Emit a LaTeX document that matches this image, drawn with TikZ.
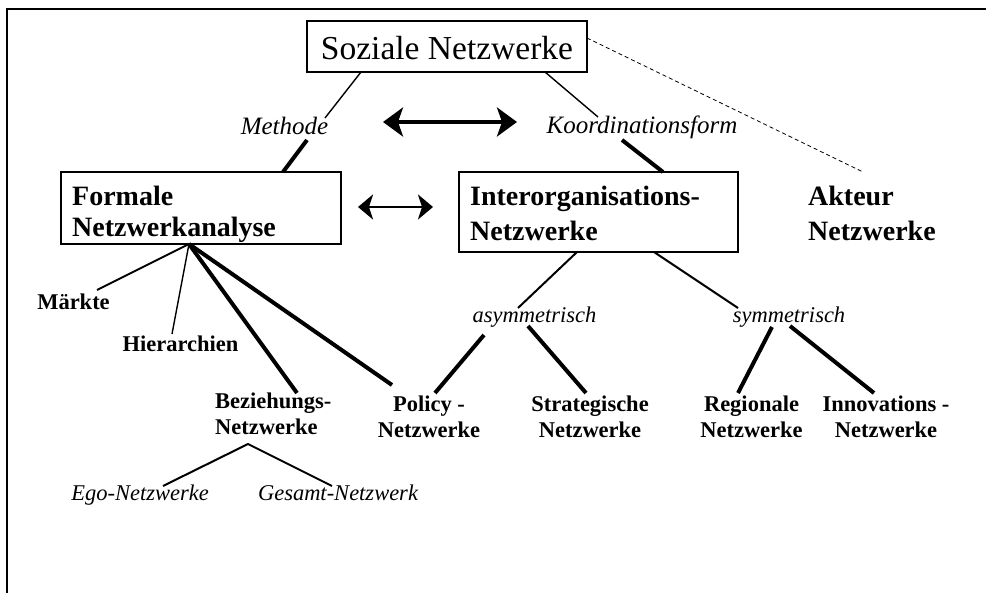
\documentclass[tikz,border=0pt]{standalone}
\usepackage{fontspec}
\setmainfont{Liberation Serif}
\usetikzlibrary{arrows.meta}
\begin{document}
\begin{tikzpicture}[x=1pt,y=-1pt,
  box/.style={draw, line width=1.2pt, inner sep=0pt},
  bigbold/.style={font=\fontsize{28}{31}\selectfont\bfseries, inner sep=0pt},
  widebold/.style={font=\fontsize{28}{35}\selectfont\bfseries, inner sep=0pt},
  smallbold/.style={font=\fontsize{22.5}{26.5}\selectfont\bfseries, inner sep=0pt, align=center},
  topital/.style={font=\fontsize{25}{30}\selectfont\itshape, inner sep=0pt},
  lowital/.style={font=\fontsize{22.5}{27}\selectfont\itshape, inner sep=0pt},
  thinline/.style={line width=1.4pt},
  midline/.style={line width=2pt},
  thickline/.style={line width=4pt},
  bigtip/.style={line width=4pt, {Stealth[length=20pt,width=29pt,inset=5pt]}-{Stealth[length=20pt,width=29pt,inset=5pt]}},
  smalltip/.style={line width=2.5pt, {Stealth[length=15pt,width=25pt,inset=4pt]}-{Stealth[length=15pt,width=25pt,inset=4pt]}},
]
\useasboundingbox (0,0) rectangle (986,593);
% frame (top and left edges)
\draw[line width=1.5pt] (986,9) -- (7,9) -- (7,593);

% top node
\node[box, minimum width=280pt, text height=39pt, text depth=12pt,
      font=\fontsize{33.5}{40}\selectfont] (soz) at (447,46.5) {Soziale Netzwerke};

% second level (base anchor sits on the last line)
\node[box, minimum width=280pt, minimum height=72pt] (formale) at (201,208) {};
\node[bigbold, align=left, anchor=base west] (formaleTxt) at (72,236.5) {Formale\\Netzwerkanalyse};
\node[box, minimum width=279pt, minimum height=80pt] (inter) at (598.5,212) {};
\node[widebold, align=left, anchor=base west] (interTxt) at (470,240.5) {Interorganisations-\\Netzwerke};
\node[widebold, align=left, anchor=base west] (akteur) at (808,240.5) {Akteur\\Netzwerke};

% edge labels
\node[topital, anchor=base] (methode) at (284.5,135) {Methode};
\node[topital, anchor=base] (koord) at (642,134) {Koordinationsform};
\node[lowital, anchor=base] (asym) at (534.5,323) {asymmetrisch};
\node[lowital, anchor=base] (sym) at (789,323) {symmetrisch};

% leaves
\node[smallbold, anchor=base] (maerkte) at (73.5,310) {Märkte};
\node[smallbold, anchor=base] (hier) at (180.5,352) {Hierarchien};
\node[smallbold, align=left, anchor=base west] (bez) at (215,435) {Beziehungs-\\Netzwerke};
\node[smallbold, anchor=base] (policy) at (429,438) {Policy -\\Netzwerke};
\node[smallbold, anchor=base] (strat) at (590,438) {Strategische\\Netzwerke};
\node[smallbold, anchor=base] (reg) at (751.5,438) {Regionale\\Netzwerke};
\node[smallbold, anchor=base] (innov) at (886,438) {Innovations -\\Netzwerke};
\node[lowital, anchor=base] (ego) at (140,501) {Ego-Netzwerke};
\node[lowital, anchor=base] (gesamt) at (338,501) {Gesamt-Netzwerk};

% attachment points
\coordinate (sozL) at (361,72);
\coordinate (sozR) at (545,72);
\coordinate (sozD) at (587,38);
\coordinate (methU) at (325,118);
\coordinate (methD) at (307,140);
\coordinate (formT) at (283,172);
\coordinate (koordU) at (598,117);
\coordinate (koordD) at (622,140);
\coordinate (interT) at (663,172);
\coordinate (akteurT) at (863,172);
\coordinate (formB) at (189,244);
\coordinate (maerkteT) at (97,290);
\coordinate (hierT) at (172,334);
\coordinate (bezT) at (297,393);
\coordinate (policyT) at (392,385);
\coordinate (bezB) at (248,444);
\coordinate (egoT) at (163,486);
\coordinate (gesamtT) at (332,486);
\coordinate (interBL) at (577,252);
\coordinate (interBR) at (654,252);
\coordinate (asymT) at (518,308);
\coordinate (symT) at (738,308);
\coordinate (asymL) at (484,335);
\coordinate (policyT2) at (435,393);
\coordinate (asymR) at (528,326);
\coordinate (stratT) at (586,393);
\coordinate (symL) at (772,327);
\coordinate (regT) at (738,393);
\coordinate (symR) at (790,326);
\coordinate (innovT) at (874,393);

% connectors
\draw[thinline] (sozL) -- (methU);
\draw[thickline] (methD) -- (formT);
\draw[thinline] (sozR) -- (koordU);
\draw[thickline] (koordD) -- (interT);
\draw[line width=0.8pt, dash pattern=on 4pt off 3pt] (sozD) -- (akteurT);

\draw[midline] (formB) -- (maerkteT);
\draw[thinline] (formB) -- (hierT);
\draw[thickline] (formB) -- (bezT);
\draw[thickline] (formB) -- (policyT);
\draw[midline] (egoT) -- (bezB) -- (gesamtT);

\draw[midline] (interBL) -- (asymT);
\draw[midline] (interBR) -- (symT);
\draw[thickline] (asymL) -- (policyT2);
\draw[thickline] (asymR) -- (stratT);
\draw[thickline] (symL) -- (regT);
\draw[thickline] (symR) -- (innovT);

% double arrows
\coordinate (arrAL) at (383,122);
\coordinate (arrAR) at (517,122);
\coordinate (arrBL) at (358,207);
\coordinate (arrBR) at (433,207);
\draw[bigtip] (arrAL) -- (arrAR);
\draw[smalltip] (arrBL) -- (arrBR);
\end{tikzpicture}
\end{document}
